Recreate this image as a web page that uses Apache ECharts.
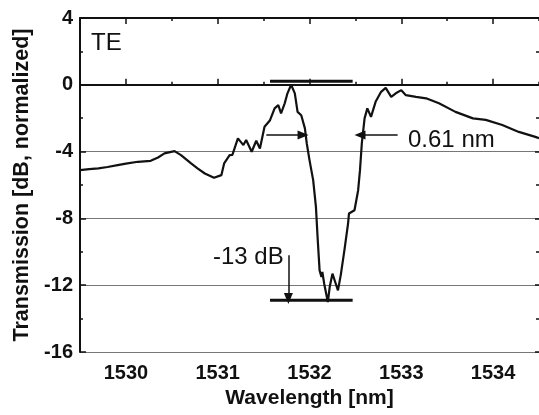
<!DOCTYPE html>
<html>
<head>
<meta charset="utf-8">
<script src="https://cdn.jsdelivr.net/npm/echarts@6/dist/echarts.min.js"></script>
<style>
html, body { margin: 0; padding: 0; background: #fff; }
#chart { width: 539px; height: 415px; }
</style>
</head>
<body>
<div id="chart"></div>
<script>
// measured TE transmission spectrum
var wavelength = [
	1529.50, 1529.60, 1529.70, 1529.80, 1529.91, 1530.00, 1530.13, 1530.27, 1530.35, 1530.42,
	1530.53, 1530.60, 1530.71, 1530.78, 1530.86, 1530.96, 1531.04, 1531.07, 1531.13, 1531.16,
	1531.22, 1531.28, 1531.31, 1531.37, 1531.42, 1531.46, 1531.51, 1531.57, 1531.62, 1531.66,
	1531.69, 1531.73, 1531.76, 1531.80, 1531.84, 1531.87, 1531.91, 1531.95, 1531.97, 1532.00,
	1532.02, 1532.04, 1532.07, 1532.09, 1532.11, 1532.13, 1532.14, 1532.16, 1532.20, 1532.22,
	1532.25, 1532.28, 1532.31, 1532.34, 1532.38, 1532.42, 1532.43, 1532.49, 1532.53, 1532.55,
	1532.57, 1532.60, 1532.63, 1532.67, 1532.72, 1532.78, 1532.83, 1532.89, 1532.94, 1533.00,
	1533.05, 1533.16, 1533.27, 1533.41, 1533.59, 1533.78, 1533.92, 1534.10, 1534.28, 1534.46,
	1534.50
];
var transmission = [
	-5.11, -5.05, -5.00, -4.92, -4.81, -4.72, -4.61, -4.55, -4.35, -4.11,
	-3.97, -4.21, -4.71, -5.00, -5.31, -5.57, -5.41, -4.71, -4.21, -4.20,
	-3.21, -3.61, -3.31, -4.01, -3.35, -3.81, -2.51, -2.12, -1.41, -1.22,
	-1.71, -1.11, -0.51, 0.00, -0.51, -1.62, -1.82, -2.61, -3.50, -4.51,
	-5.11, -5.71, -7.31, -9.31, -11.11, -11.51, -11.21, -11.91, -13.01, -12.11,
	-11.31, -11.81, -12.31, -11.41, -9.91, -8.31, -7.71, -7.51, -6.31, -5.11,
	-3.50, -2.01, -1.41, -1.92, -1.02, -0.42, -0.18, -0.72, -0.51, -0.32,
	-0.62, -0.72, -0.81, -1.11, -1.62, -2.01, -2.10, -2.41, -2.82, -3.12,
	-3.20
];

// axis ticks
var xMajor = [1530, 1531, 1532, 1533, 1534];

// annotations (data coordinates)
var levelTop = [[1531.57, 0.22], [1532.47, 0.22]];
var levelBottom = [[1531.57, -12.9], [1532.47, -12.9]];
var widthArrowLeft = [[1531.53, -3.0], [1531.93, -3.0]];
var widthArrowRight = [[1532.96, -3.0], [1532.55, -3.0]];
var depthArrow = [[1531.77, -10.2], [1531.77, -12.8]];

var FONT = '"Liberation Sans", Arial, Helvetica, sans-serif';

var dom = document.getElementById('chart');
var myChart = echarts.init(dom, null, {renderer: 'canvas'});

var spectrum = [];
for (var i = 0; i < wavelength.length; i++) {
	spectrum.push([wavelength[i], transmission[i]]);
}

function arrow(pts) {
	return [{coord: pts[0]}, {coord: pts[1]}];
}

function xAxisBase(pos) {
	return {
		type: 'value',
		position: pos,
		min: 1529.5,
		max: 1534.5,
		splitLine: {show: false}
	};
}

var xBottom = xAxisBase('bottom');
xBottom.axisLine = {show: true, lineStyle: {color: '#111', width: 2}};
xBottom.axisTick = {show: true, inside: true, length: 6, customValues: xMajor, lineStyle: {color: '#111', width: 1.5}};
xBottom.axisLabel = {
	show: true, customValues: xMajor, margin: 11, color: '#111',
	fontFamily: FONT, fontWeight: 'bold', fontSize: 20,
	formatter: function (v) { return String(v); }
};
xBottom.name = 'Wavelength [nm]';
xBottom.nameLocation = 'middle';
xBottom.nameGap = 35;
xBottom.nameTextStyle = {color: '#111', fontFamily: FONT, fontWeight: 'bold', fontSize: 21};

var xBottomMinor = xAxisBase('bottom');
xBottomMinor.interval = 0.5;
xBottomMinor.axisLine = {show: false};
xBottomMinor.axisTick = {show: true, inside: true, length: 3, lineStyle: {color: '#111', width: 1.5}};
xBottomMinor.axisLabel = {show: false};

var xTop = xAxisBase('top');
xTop.axisLine = {show: true, lineStyle: {color: '#111', width: 2}};
xTop.axisTick = {show: true, inside: true, length: 6, customValues: xMajor, lineStyle: {color: '#111', width: 1.5}};
xTop.axisLabel = {show: false};

var xTopMinor = xAxisBase('top');
xTopMinor.interval = 0.5;
xTopMinor.axisLine = {show: false};
xTopMinor.axisTick = {show: true, inside: true, length: 3, lineStyle: {color: '#111', width: 1.5}};
xTopMinor.axisLabel = {show: false};

var option = {
	animation: false,
	backgroundColor: '#fff',
	grid: {left: 80, right: 0, top: 18, bottom: 63},
	xAxis: [xBottom, xBottomMinor, xTop, xTopMinor],
	yAxis: [
		{
			type: 'value',
			position: 'left',
			min: -16,
			max: 4,
			interval: 4,
			axisLine: {show: true, lineStyle: {color: '#111', width: 2}},
			axisTick: {show: true, inside: true, length: 6, lineStyle: {color: '#111', width: 1.5}},
			minorTick: {show: true, splitNumber: 2, length: 3, lineStyle: {color: '#111', width: 1.5}},
			axisLabel: {margin: 7, color: '#111', fontFamily: FONT, fontWeight: 'bold', fontSize: 20},
			splitLine: {show: true, lineStyle: {color: '#777', width: 1}},
			name: 'Transmission [dB, normalized]',
			nameLocation: 'middle',
			nameGap: 44,
			nameTextStyle: {color: '#111', fontFamily: FONT, fontWeight: 'bold', fontSize: 21.5}
		},
		{
			type: 'value',
			position: 'right',
			min: -16,
			max: 4,
			interval: 4,
			axisLine: {show: false},
			axisTick: {show: true, inside: true, length: 4, lineStyle: {color: '#111', width: 1.5}},
			minorTick: {show: true, splitNumber: 2, length: 3, lineStyle: {color: '#111', width: 1.5}},
			axisLabel: {show: false},
			splitLine: {show: false}
		}
	],
	series: [
		{
			name: 'TE',
			type: 'line',
			data: spectrum,
			showSymbol: false,
			symbol: 'none',
			lineStyle: {color: '#111', width: 2.2},
			z: 5,
			markLine: {
				silent: true,
				symbol: ['none', 'triangle'],
				symbolSize: [9, 11],
				lineStyle: {color: '#111', width: 1.5, type: 'solid'},
				label: {show: false},
				data: [arrow(widthArrowLeft), arrow(widthArrowRight), arrow(depthArrow)]
			}
		},
		{
			type: 'line',
			data: levelTop,
			showSymbol: false,
			symbol: 'none',
			lineStyle: {color: '#111', width: 3}
		},
		{
			type: 'line',
			data: levelBottom,
			showSymbol: false,
			symbol: 'none',
			lineStyle: {color: '#111', width: 3}
		}
	],
	graphic: [
		{type: 'text', left: 91, top: 31, style: {text: 'TE', fill: '#111', font: '24px ' + FONT}},
		{type: 'text', left: 408, top: 128, style: {text: '0.61 nm', fill: '#111', font: '24px ' + FONT}},
		{type: 'text', left: 213, top: 245, style: {text: '-13 dB', fill: '#111', font: '24px ' + FONT}}
	]
};

myChart.setOption(option, true);
</script>
</body>
</html>
